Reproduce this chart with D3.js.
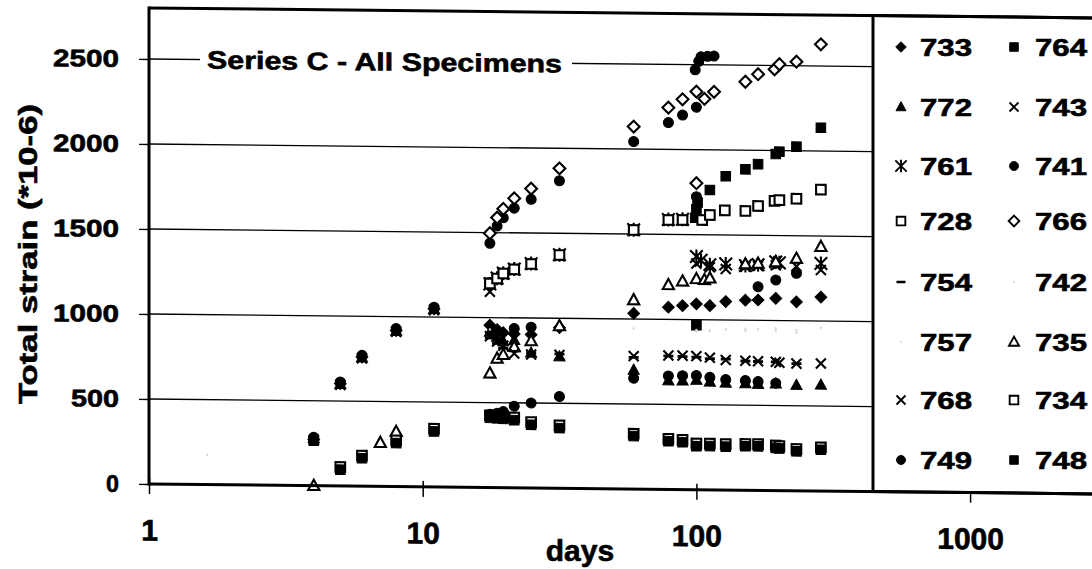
<!DOCTYPE html>
<html><head><meta charset="utf-8">
<script src="https://cdn.jsdelivr.net/npm/d3@7"></script>
<style>
body{margin:0;background:#fff}
svg{display:block}
text{font-family:"Liberation Sans",Arial,sans-serif;font-weight:bold;fill:#000;stroke:#000;stroke-width:0.6px}
</style>
</head><body>
<svg id="c" width="1092" height="569"></svg>
<script>
// ---------------- data (day, total strain *10-6) ----------------
const s733 = [[4,272],[5,602],[6,760],[8,918],[11,1048],[17.6,955],[18.7,930],[19.7,912],[21.6,905],[24.9,902],[31.6,945],
  [59,1034],[79,1072],[89,1082],[100,1093],[112,1084],[128,1109],[151,1118],[168,1120],[195,1131],[232,1111],[285,1141]];
const s764 = [[17.6,1205],[100,968],[99,1600],[100,1650],[101,1690],[112,1764],[128,1846],[151,1888],[168,1919],[195,1980],[201,1994],[232,2024],[285,2137]];
const s772 = [[4,278],[5,598],[6,756],[8,915],[11,1045],[17.6,915],[18.7,885],[19.7,860],[21.6,868],[24.9,795],[31.6,774],
  [59,700],[79,640],[89,640],[100,645],[112,635],[128,630],[151,628],[168,625],[195,628],[232,621],[285,624]];
const s743 = [[17.6,1152],[18.7,1222],[19.7,1255],[21.6,1280],[24.9,1312],[31.6,1366],[59,1518],[79,1580],[89,1582],
  [100,1330],[112,1310],[128,1300],[151,1315],[168,1320],[195,1325],[232,1320],[285,1300]];
const s761 = [[17.6,1198],[18.7,1232],[19.7,1262],[21.6,1287],[24.9,1320],[31.6,1374],[59,1526],[79,1588],[89,1590],
  [100,1372],[104,1350],[112,1325],[128,1330],[151,1322],[168,1328],[195,1345],[201,1340],[285,1339]];
const s741 = [[17.6,1437],[18.7,1539],[19.7,1588],[21.6,1645],[24.9,1698],[31.6,1809],[59,2044],[79,2158],[89,2203],[100,2250],
  [100,1724],[99,2470],[102,2520],[104,2547],[110,2550],[116,2552],
  [21.6,937],[24.9,946],[168,1198],[195,1239],[232,1279]];
const s728 = [[17.6,1200],[18.7,1230],[19.7,1260],[21.6,1285],[24.9,1318],[31.6,1372],[59,1524],[79,1585],[89,1586],
  [105,1587],[112,1617],[127,1645],[151,1643],[168,1673],[193,1704],[201,1709],[232,1718],[285,1773]];
const s766 = [[17.6,1496],[18.7,1588],[19.7,1640],[21.6,1703],[24.9,1761],[31.6,1882],[59,2132],[79,2246],[89,2296],
  [100,2342],[107,2300],[116,2342],[100,1803],[151,2403],[168,2448],[193,2478],[201,2508],[232,2524],[285,2628]];
const s754 = [[4,276],[5,600],[6,758],[8,916],[11,1046],[17.6,880],[18.7,848],[19.7,822],[21.6,805],[24.9,796],[31.6,790],
  [59,775],[79,785],[89,783],[100,780],[112,772],[128,770],[151,760],[168,758],[195,757],[232,748]];
const s742 = [[1.63,175],[17.6,930],[59,945],[100,940],[112,935],[128,945],[151,950],[168,948],[195,955],[232,945],[285,960]];
const s757 = [[100,930],[112,938],[151,935],[195,940],[232,930]];
const s735 = [[4,0],[7,257],[8,323],[17.6,672],[18.7,760],[19.7,782],[21.6,829],[24.9,865],[31.6,955],
  [59,1112],[79,1203],[89,1225],[100,1240],[107,1235],[112,1245],[151,1330],[168,1335],[195,1345],[232,1366],[285,1437]];
const s768 = [[4,270],[5,595],[6,752],[8,910],[11,1040],[17.6,890],[18.7,860],[19.7,835],[21.6,790],[24.9,785],[31.6,785],
  [59,782],[79,788],[89,788],[100,786],[112,778],[128,765],[151,762],[168,760],[195,757],[201,752],[232,748],[285,750]];
const s734 = [[5,112],[6,180],[8,272],[11,343],[17.6,425],[18.7,423],[19.7,420],[21.6,414],[24.9,388],[31.6,370],
  [59,326],[79,298],[89,293],[100,272],[112,272],[128,270],[151,272],[168,272],[195,265],[201,262],[232,246],[285,257]];
const s749 = [[4,285],[5,612],[6,770],[8,930],[11,1058],[17.6,432],[18.7,437],[19.7,448],[21.6,480],[24.9,500],[31.6,540],
  [59,652],[79,668],[89,670],[100,672],[112,662],[128,650],[151,645],[168,640],[195,632]];
const s748 = [[4,265],[5,96],[6,165],[8,256],[11,327],[17.6,410],[18.7,408],[19.7,405],[21.6,398],[24.9,372],[31.6,354],
  [59,312],[79,284],[89,279],[100,256],[112,258],[128,255],[151,259],[168,259],[195,251],[201,248],[232,232],[285,243]];

const seriesNames = ["733","764","772","743","761","741","728","766","754","742","757","735","768","734","749","748"];
const seriesValues = [s733,s764,s772,s743,s761,s741,s728,s766,s754,s742,s757,s735,s768,s734,s749,s748];
const legendCol1 = ["733","772","761","728","754","757","768","749"];
const legendCol2 = ["764","743","741","766","742","735","734","748"];
const yTicks = [0,500,1000,1500,2000,2500];
const xTicks = [1,10,100,1000];
const titleText = "Series C - All Specimens";
const xTitle = "days";
const yTitle = "Total strain (*10-6)";

// ---------------- styles ----------------
const markerStyle = {
  "733":"diamondF","764":"squareF","772":"triF","743":"x","761":"star","741":"circleF","728":"squareO","766":"diamondO",
  "754":"dash","742":"faint","757":"faint","735":"triO","768":"x","734":"squareO","749":"circleF","748":"squareF"
};
function markerPath(kind){
  const s=4.8;
  switch(kind){
    case "diamondF": case "diamondO": {const d=5.9; return `M0,${-d}L${d},0L0,${d}L${-d},0Z`;}
    case "squareF": case "squareO": return `M${-s},${-s}H${s}V${s}H${-s}Z`;
    case "triF": case "triO": return `M0,-6L5.6,4.2L-5.6,4.2Z`;
    case "circleF": {const r=5; return `M${r},0A${r},${r} 0 1,1 ${-r},0A${r},${r} 0 1,1 ${r},0Z`;}
    case "x": return `M-5,-5L5,5M-5,5L5,-5`;
    case "star": return `M-6.3,-6.3L6.3,6.3M-6.3,6.3L6.3,-6.3M0,-7L0,7`;
    case "dash": return `M-5,0H5`;
    case "faint": return `M1.2,0A1.2,1.2 0 1,1 -1.2,0A1.2,1.2 0 1,1 1.2,0Z`;
  }
}
function styleMarker(sel, kind){
  if(kind.endsWith("F")) sel.attr("fill","#000").attr("stroke","#000").attr("stroke-width",1);
  else if(kind.endsWith("O")) sel.attr("fill","#fff").attr("stroke","#000").attr("stroke-width",2.1);
  else if(kind==="faint") sel.attr("fill","#d6d6d6").attr("stroke","none");
  else sel.attr("fill","none").attr("stroke","#000").attr("stroke-width",kind==="dash"?2.8:2.1);
}

// ---------------- layout ----------------
const svg = d3.select("#c");
const X0=149, Y0=484, YTOP=8, LEGX=873, RIGHT=1110;
const k = 0.0105; // slight skew of the scanned original
const x = d3.scaleLog().domain([1,10000]).range([X0, X0+4*273.7]);
const y = d3.scaleLinear().domain([0,2800]).range([Y0, YTOP]);

const g = svg.append("g").attr("transform",`matrix(1,${k},0,1,0,${-X0*k})`);

// gridlines
g.append("g").selectAll("line").data(yTicks.filter(d=>d>0)).join("line")
  .attr("x1",X0).attr("x2",LEGX).attr("y1",d=>y(d)).attr("y2",d=>y(d))
  .attr("stroke","#000").attr("stroke-width",1.3);

// y axis
const ya = g.append("g").attr("transform",`translate(${X0},0)`)
  .call(d3.axisLeft(y).tickValues(yTicks).tickSize(10).tickPadding(20).tickFormat(d3.format("d")));
ya.select(".domain").remove();
ya.selectAll(".tick line").attr("stroke","#000").attr("stroke-width",1.3);
ya.selectAll(".tick text").attr("font-size",24).attr("font-family","Liberation Sans, Arial, sans-serif")
  .attr("font-weight","bold").attr("fill","#000")
  .each(function(d){ const t=String(d); d3.select(this).attr("textLength", t.length===4?66:(t.length===3?48:13)).attr("lengthAdjust","spacingAndGlyphs"); });

// x axis
const xa = g.append("g").attr("transform",`translate(0,${Y0})`)
  .call(d3.axisBottom(x).tickValues(xTicks).tickSize(10).tickFormat(d3.format("d")));
xa.select(".domain").remove();
xa.selectAll(".tick line").attr("y1",-6).attr("y2",10).attr("stroke","#000").attr("stroke-width",1.5);
xa.selectAll(".tick text").attr("y",56.5).attr("dy",0).attr("font-size",30)
  .attr("font-family","Liberation Sans, Arial, sans-serif").attr("font-weight","bold").attr("fill","#000");

// data markers
seriesNames.forEach((name,i)=>{
  const kind = markerStyle[name];
  const sel = g.append("g").attr("class","s"+name).selectAll("path").data(seriesValues[i]).join("path")
    .attr("d",markerPath(kind))
    .attr("transform",d=>`translate(${x(d[0])},${y(d[1])})`);
  styleMarker(sel, kind);
});

// frame
g.append("rect").attr("x",LEGX).attr("y",YTOP).attr("width",RIGHT-LEGX).attr("height",Y0-YTOP)
  .attr("fill","#fff").attr("stroke","#000").attr("stroke-width",3);
g.append("line").attr("x1",X0).attr("x2",X0).attr("y1",YTOP-1.5).attr("y2",Y0+1.5).attr("stroke","#000").attr("stroke-width",3);
g.append("line").attr("x1",X0).attr("x2",RIGHT).attr("y1",YTOP).attr("y2",YTOP).attr("stroke","#000").attr("stroke-width",3);
g.append("line").attr("x1",X0).attr("x2",RIGHT).attr("y1",Y0).attr("y2",Y0).attr("stroke","#000").attr("stroke-width",3);

// title with white background over the 2500 gridline
const tg = g.append("g");
tg.append("rect").attr("x",200).attr("y",y(2500)-13).attr("width",372).attr("height",26).attr("fill","#fff");
tg.append("text").attr("x",207).attr("y",y(2500)+9).attr("font-size",25)
  .attr("textLength",355).attr("lengthAdjust","spacingAndGlyphs").text(titleText);

// axis titles (screen coordinates)
svg.append("text").attr("x",580).attr("y",561).attr("text-anchor","middle").attr("font-size",30).text(xTitle);
svg.append("text").attr("transform","translate(37,254) rotate(-90)").attr("text-anchor","middle")
  .attr("font-size",26).attr("textLength",300).attr("lengthAdjust","spacingAndGlyphs").text(yTitle);

// legend (screen coordinates)
const rowsY = [47,107,166,221,282,342,400,460];
function legendCol(names, mx, tx){
  const lg = svg.append("g");
  names.forEach((name,i)=>{
    const kind = markerStyle[name];
    const p = lg.append("path").attr("d",markerPath(kind)).attr("transform",`translate(${mx},${rowsY[i]}) scale(0.9)`);
    styleMarker(p, kind);
    lg.append("text").attr("x",tx).attr("y",rowsY[i]+8.6).attr("font-size",24)
      .attr("textLength",52).attr("lengthAdjust","spacingAndGlyphs").text(name);
  });
}
legendCol(legendCol1, 901, 920);
legendCol(legendCol2, 1014, 1035);
</script>
</body></html>
